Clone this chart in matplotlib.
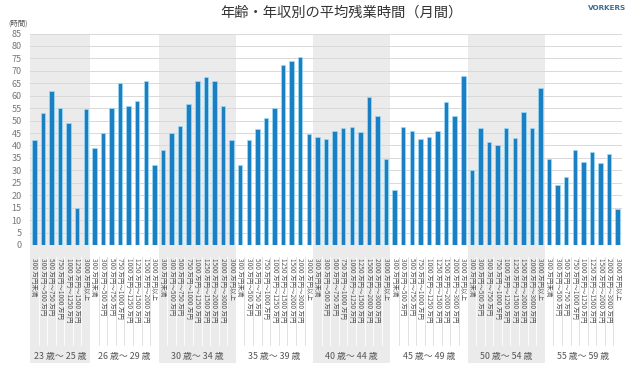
import matplotlib
matplotlib.use("Agg")
import matplotlib.pyplot as plt
import matplotlib.transforms as mtransforms
from matplotlib.patches import Rectangle

plt.rcParams['font.family'] = ['Noto Sans CJK JP', 'DejaVu Sans']

# ---- data ----
age_groups = ['23 歳～ 25 歳', '26 歳～ 29 歳', '30 歳～ 34 歳', '35 歳～ 39 歳',
              '40 歳～ 44 歳', '45 歳～ 49 歳', '50 歳～ 54 歳', '55 歳～ 59 歳']

brackets_full = ['300 万円未満', '300 万円～500 万円', '500 万円～750 万円',
                 '750 万円～1000 万円', '1000 万円～1250 万円', '1250 万円～1500 万円',
                 '1500 万円～2000 万円', '2000 万円～3000 万円', '3000 万円以上']
brackets_23 = ['300 万円未満', '300 万円～500 万円', '500 万円～750 万円',
               '750 万円～1000 万円', '1000 万円～1250 万円', '1250 万円～1500 万円',
               '3000 万円以上']
brackets_26 = ['300 万円未満', '300 万円～500 万円', '500 万円～750 万円',
               '750 万円～1000 万円', '1000 万円～1250 万円', '1250 万円～1500 万円',
               '1500 万円～2000 万円', '3000 万円以上']

v23 = [42, 53, 62, 55, 49, 15, 54.5]
v26 = [39, 45, 55, 65, 56, 58, 66, 32]
v30 = [38, 45, 48, 56.5, 66, 67.5, 66, 56, 42]
v35 = [32, 42, 46.5, 51, 55, 72.5, 74, 75.5, 44.5]
v40 = [43.5, 42.5, 46, 47, 47.5, 45.5, 59.5, 52, 34.5]
v45 = [22, 47.5, 46, 42.5, 43.5, 46, 57.5, 52, 68]
v50 = [30, 47, 41.5, 40, 47, 43, 53.5, 47, 63]
v55 = [34.5, 24, 27.5, 38, 33.5, 37.5, 33, 36.5, 14.5]

group_values = [v23, v26, v30, v35, v40, v45, v50, v55]
group_brackets = [brackets_23, brackets_26] + [brackets_full] * 6

yticks = list(range(0, 90, 5))

title = '年齢・年収別の平均残業時間（月間）'

# ---- figure ----
W, H = 641, 371
fig = plt.figure(figsize=(W / 100, H / 100), dpi=100)
ax_left, ax_right, ax_top, ax_bottom = 30, 622, 33.5, 245
ax = fig.add_axes([ax_left / W, 1 - ax_bottom / H,
                   (ax_right - ax_left) / W, (ax_bottom - ax_top) / H])

values = []
labels = []
group_spans = []
for vals, brs in zip(group_values, group_brackets):
    start = len(values)
    values.extend(vals)
    labels.extend(brs)
    group_spans.append((start, len(values)))

n = len(values)
x = list(range(n))

ax.set_xlim(-0.5, n - 0.5)
ax.set_ylim(0, 85)

trans = mtransforms.blended_transform_factory(ax.transData, ax.transAxes)
axh = ax_bottom - ax_top
y_shade_bottom = -(363 - ax_bottom) / axh
y_line_top = -(257 - ax_bottom) / axh
y_line_bottom = -(345 - ax_bottom) / axh
y_group_label = -(356 - ax_bottom) / axh

for gi, (s, e) in enumerate(group_spans):
    gray = (gi % 2 == 0)
    if gray:
        ax.add_patch(Rectangle((s - 0.5, y_shade_bottom), e - s, 1 - y_shade_bottom,
                               transform=trans, facecolor='#ebebeb', edgecolor='none',
                               clip_on=False, zorder=0))
    lc = '#ffffff' if gray else '#dcdcdc'
    for k in range(s, e - 1):
        ax.plot([k + 0.5, k + 0.5], [y_line_top, y_line_bottom], transform=trans,
                color=lc, lw=0.6, clip_on=False, zorder=0.5)
    ax.text((s + e - 1) / 2, y_group_label, age_groups[gi], transform=trans,
            ha='center', va='center', fontsize=6.4, color='#555555')

ax.set_yticks(yticks)
ax.grid(axis='y', color='#d9d9d9', lw=0.7, zorder=1)
ax.set_axisbelow(True)

ax.bar(x, values, width=0.52, color='#1a7fc3', edgecolor='#9fdcf5', linewidth=0.5,
       zorder=3)

ax.set_xticks(x)
ax.set_xticklabels(labels, rotation=270, fontsize=4.7, color='#555555',
                   va='top', ha='center')
ax.tick_params(axis='x', length=0, pad=9)
ax.tick_params(axis='y', length=0, pad=6, labelsize=6.5, labelcolor='#777777')
for sp in ax.spines.values():
    sp.set_visible(False)
ax.patch.set_alpha(0)

fig.text(18.5 / W, 1 - 23.5 / H, '(時間)', ha='center', va='center',
         fontsize=5.3, color='#555555')
fig.text(341 / W, 1 - 13 / H, title, ha='center', va='center',
         fontsize=10.3, color='#333333')
fig.text(607 / W, 1 - 8.5 / H, 'VORKERS', ha='center', va='center',
         fontsize=5.2, color='#3b6f98', fontweight='bold', family='DejaVu Sans')

fig.savefig('out.png', dpi=100)
